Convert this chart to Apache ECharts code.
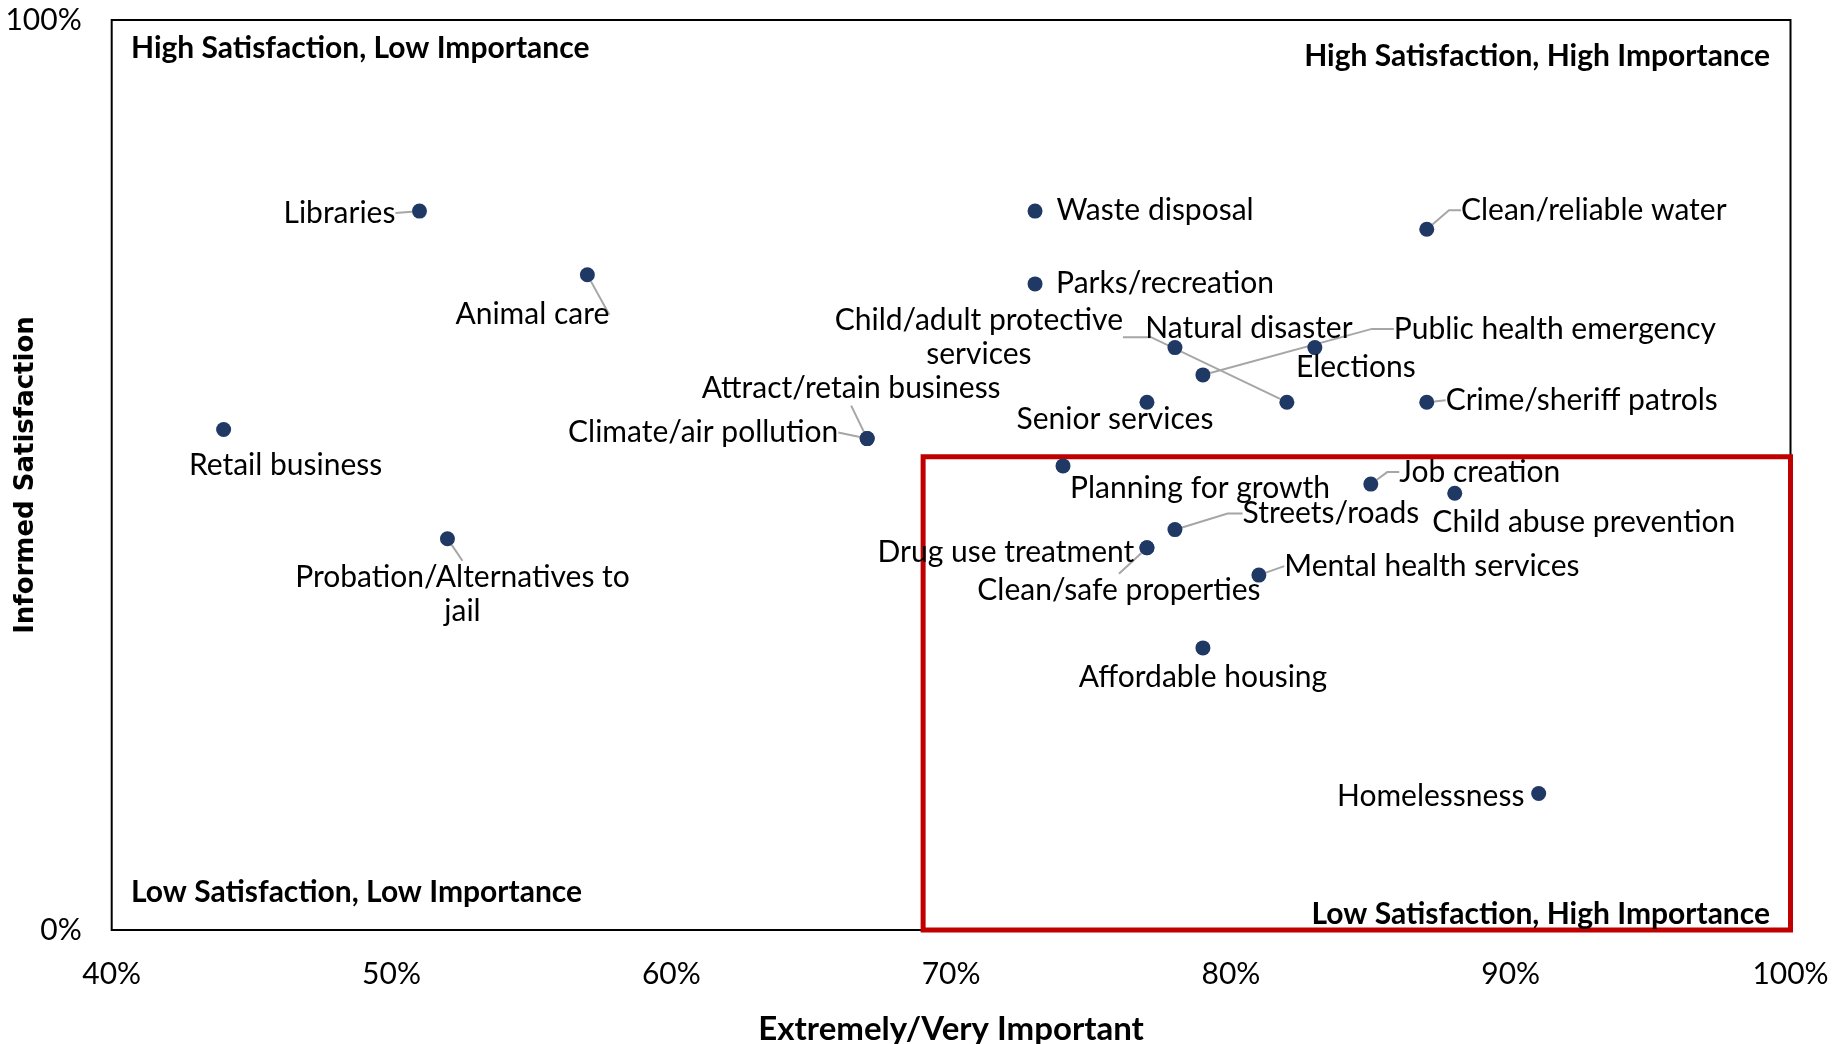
<!DOCTYPE html>
<html><head><meta charset="utf-8">
<script src="https://cdn.jsdelivr.net/npm/echarts@6/dist/echarts.min.js"></script>
<style>html,body{margin:0;padding:0;background:#fff;}#c{width:1841px;height:1044px;}</style>
</head><body><div id="c"></div>
<script>
// ---- data ----
const services = [
  "Libraries", "Animal care", "Retail business", "Probation/Alternatives to jail",
  "Climate/air pollution", "Attract/retain business", "Waste disposal", "Parks/recreation",
  "Clean/reliable water", "Child/adult protective services", "Natural disaster",
  "Public health emergency", "Elections", "Senior services", "Crime/sheriff patrols",
  "Planning for growth", "Job creation", "Child abuse prevention", "Streets/roads",
  "Drug use treatment", "Clean/safe properties", "Mental health services",
  "Affordable housing", "Homelessness"
];
const importance = [51, 57, 44, 52, 67, 67, 73, 73, 87, 82, 78, 79, 83, 77, 87, 74, 85, 88, 78, 77, 77, 81, 79, 91];
const satisfaction = [79, 72, 55, 43, 54, 54, 79, 71, 77, 58, 64, 61, 64, 58, 58, 51, 49, 48, 44, 42, 42, 39, 31, 15];
const xTicks = [40, 50, 60, 70, 80, 90, 100];
const yTicks = [0, 100];
const focusBox = { x: [69, 100], y: [0, 52] };  // Low Satisfaction, High Importance highlight
const quadrantTitles = [
  "High Satisfaction, Low Importance", "High Satisfaction, High Importance",
  "Low Satisfaction, Low Importance", "Low Satisfaction, High Importance"
];

// ---- label layout (styling only) ----
const wrapped = {
  "Probation/Alternatives to jail": "Probation/Alternatives to\njail",
  "Child/adult protective services": "Child/adult protective\nservices"
};
// label centre offset from its dot, in px, and leader line (null = none, number = length2)
const labelOffsets = [
  [-80, 2], [-55, 40], [62, 36], [15, 56],
  [-164, -6], [-16, -50], [120, -1], [130, -1],
  [167, -19], [-308, -65], [74, -19],
  [352, -46], [41, 20], [-32, 17], [155, -2],
  [137, 22], [109, -12], [129, 29], [156, -16],
  [-141, 5], [-28, 43], [173, -9],
  [0, 29], [-108, 3]
];
const leaders = [
  0, 0, null, 0,
  0, 0, null, null,
  12, 28, null,
  22, null, null, 0,
  null, 12, null, 15,
  null, 0, 0,
  null, null
];

const FONT = 'Lato';
const chart = echarts.init(document.getElementById('c'), null, {renderer: 'canvas'});
const data = services.map((n, i) => ({
  name: n,
  value: [importance[i], satisfaction[i]],
  labelLine: { show: leaders[i] !== null, length2: leaders[i] || 0 }
}));

chart.setOption({
  animation: false,
  backgroundColor: '#fff',
  grid: {
    left: 111.7, right: 50.5, top: 20, bottom: 114, show: true, borderColor: '#000', borderWidth: 2,
    containLabel: false, outerBoundsMode: 'none'
  },
  xAxis: {
    type: 'value', min: xTicks[0], max: xTicks[xTicks.length - 1], interval: xTicks[1] - xTicks[0],
    axisLine: { show: false }, axisTick: { show: false }, splitLine: { show: false },
    axisLabel: { formatter: '{value}%', fontFamily: FONT, fontSize: 30, color: '#000', margin: 29 },
    name: 'Extremely/Very Important', nameLocation: 'middle', nameGap: 83, nameMoveOverlap: false,
    nameTextStyle: { fontFamily: FONT, fontWeight: 'bold', fontSize: 33, color: '#000' }
  },
  yAxis: {
    type: 'value', min: yTicks[0], max: yTicks[1], interval: yTicks[1] - yTicks[0],
    axisLine: { show: false }, axisTick: { show: false }, splitLine: { show: false },
    axisLabel: { formatter: '{value}%', fontFamily: FONT, fontSize: 30, color: '#000', margin: 30 },
    name: 'Informed Satisfaction', nameLocation: 'middle', nameGap: 72, nameMoveOverlap: false,
    nameTextStyle: { fontFamily: 'DejaVu Sans', fontWeight: 'bold', fontSize: 26, color: '#000' }
  },
  graphic: [
    { type: 'text', left: 131, top: 33, style: { text: quadrantTitles[0], font: 'bold 30px ' + FONT, fill: '#000' } },
    { type: 'text', right: 71, top: 41, style: { text: quadrantTitles[1], font: 'bold 30px ' + FONT, fill: '#000' } },
    { type: 'text', left: 131, top: 877, style: { text: quadrantTitles[2], font: 'bold 30px ' + FONT, fill: '#000' } },
    { type: 'text', right: 71, top: 899, style: { text: quadrantTitles[3], font: 'bold 30px ' + FONT, fill: '#000' }, z: 100 }
  ],
  series: [{
    type: 'scatter',
    data: data,
    symbol: 'circle',
    symbolSize: 15,
    itemStyle: { color: '#1F3864', opacity: 1 },
    label: {
      show: true,
      formatter: p => wrapped[p.name] || p.name,
      fontFamily: FONT, fontSize: 30, color: '#000', lineHeight: 34
    },
    labelLine: { lineStyle: { color: '#A6A6A6', width: 2 }, minTurnAngle: 90 },
    labelLayout: function (p) {
      const o = labelOffsets[p.dataIndex];
      const cx = p.rect.x + p.rect.width / 2;
      const cy = p.rect.y + p.rect.height / 2;
      return { x: cx + o[0], y: cy + o[1], align: 'center', verticalAlign: 'middle' };
    },
    markArea: {
      silent: true,
      itemStyle: { color: 'rgba(0,0,0,0)', borderColor: '#C00000', borderWidth: 5 },
      data: [[{ coord: [focusBox.x[0], focusBox.y[1]] }, { coord: [focusBox.x[1], focusBox.y[0]] }]]
    }
  }]
});
</script>
</body></html>
